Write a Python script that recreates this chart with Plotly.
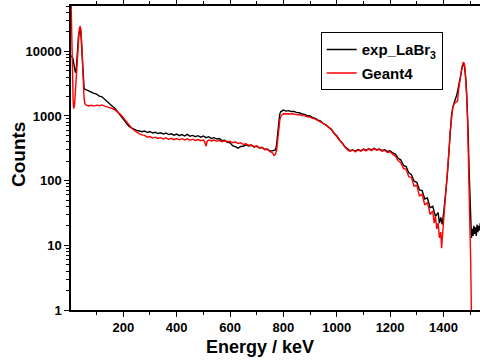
import plotly.graph_objects as go

# ---------------- data ----------------
exp_energy = [5, 8, 11, 14, 17, 20, 23, 26, 29, 32, 35, 38, 41, 44, 47, 50, 53, 56, 60,
              70, 80, 90, 100, 110, 120, 130, 140, 150, 160, 170, 180, 190, 200, 210, 220, 230, 240, 250, 260,
              270, 280, 290, 300, 310, 320, 330, 340, 350, 360, 370, 380, 390, 400, 410, 420, 430, 440, 450,
              460, 470, 480, 490, 500, 510, 520, 530, 540, 550, 560, 570, 580, 590, 600, 610, 620, 630, 640,
              650, 660, 670, 680, 690, 700, 710, 720, 730, 740, 750, 760, 770,
              774, 777, 780, 783, 786, 790, 795, 800,
              810, 820, 830, 840, 850, 860, 870, 880, 890, 900, 910, 920, 930, 940, 950, 960, 970, 980, 990,
              1000, 1010, 1020, 1030, 1040, 1050, 1060, 1070, 1080, 1090, 1100, 1110, 1120, 1130, 1140, 1150,
              1160, 1170, 1180, 1190, 1200, 1210, 1220, 1230, 1240, 1250, 1260, 1270, 1280, 1290, 1300, 1310,
              1320, 1330, 1340, 1350, 1360, 1370, 1380, 1385, 1390, 1395, 1400,
              1405, 1410, 1415, 1420, 1425, 1430, 1435, 1440, 1445, 1450, 1455, 1460, 1465, 1470, 1475, 1478,
              1481, 1484, 1487, 1490, 1493, 1496, 1499, 1502, 1505, 1508, 1511, 1514, 1517, 1520, 1523, 1526,
              1529, 1532, 1535, 1538, 1541]
exp_counts = [8600, 8200, 7800, 6600, 5400, 4800, 4700, 6500, 11000, 17000, 21500, 22500, 19000, 11000, 5500, 3200, 2700, 2600, 2550,
              2450, 2380, 2230, 2170, 2030, 1980, 1830, 1640, 1520, 1400, 1290, 1150, 1030, 910, 790, 700, 655, 620, 600, 585,
              570, 585, 555, 575, 545, 560, 535, 550, 525, 545, 515, 530, 505, 525, 495, 515, 490, 520, 485,
              500, 478, 495, 470, 490, 462, 478, 450, 462, 440, 448, 418, 420, 392, 385, 348, 335, 318, 338,
              340, 358, 342, 352, 332, 340, 322, 326, 305, 305, 288, 290, 298,
              340, 450, 640, 860, 1050, 1160, 1210, 1230,
              1190, 1210, 1170, 1175, 1125, 1120, 1070, 1060, 1005, 1000, 940, 920, 860, 830, 760, 730, 670, 625, 540,
              495, 425, 385, 335, 315, 290, 298, 285, 302, 290, 308, 295, 312, 298, 315, 300,
              308, 292, 300, 282, 290, 268, 258, 222, 210, 172, 165, 132, 124, 98, 94, 72,
              70, 52, 54, 38, 40, 28, 32, 22, 27, 21, 30,
              45, 75, 130, 260, 560, 1000, 1350, 1650, 1850, 2100, 2600, 3300, 4300, 5600, 6500, 6300,
              5200, 3700, 2200, 1200, 500, 150, 50, 22, 13, 18, 14, 20, 15, 19, 14, 21,
              16, 20, 17, 22, 18]

g4_energy = [4, 5, 6, 8, 10, 12, 14, 17, 20, 23, 26, 29, 32, 35, 38, 41, 44, 47, 50, 53, 56, 60,
             70, 80, 90, 100, 110, 120, 130, 140, 150, 160, 170, 180, 190, 200, 210, 220, 230, 240, 250, 260,
             270, 280, 290, 300, 310, 320, 330, 340, 350, 360, 370, 380, 390, 400, 410, 420, 430, 440, 450,
             460, 470, 480, 490, 500, 505, 510, 515, 520, 530, 540, 550, 560, 570, 580, 590, 600, 610, 620,
             630, 640, 650, 660, 670, 680, 690, 700, 710, 720, 730, 740, 750, 760, 765, 770,
             775, 778, 781, 784, 787, 791, 796, 802,
             810, 820, 830, 840, 850, 860, 870, 880, 890, 900, 910, 920, 930, 940, 950, 960, 970, 980, 990,
             1000, 1010, 1020, 1030, 1040, 1050, 1060, 1070, 1080, 1090, 1100, 1110, 1120, 1130, 1140, 1150,
             1160, 1170, 1180, 1190, 1200, 1210, 1220, 1230, 1240, 1250, 1260, 1270, 1280, 1290, 1300, 1310,
             1320, 1330, 1340, 1350, 1360, 1365, 1370, 1375, 1380, 1385, 1390, 1393, 1396, 1400,
             1405, 1410, 1415, 1420, 1425, 1430, 1435, 1440, 1445, 1450, 1453, 1456, 1460, 1465, 1470, 1475,
             1478, 1481, 1484, 1487, 1490, 1493, 1496, 1499, 1502, 1504, 1506]
g4_counts = [70000, 40000, 20000, 7000, 3000, 1700, 1300, 1450, 2200, 3800, 6500, 11000, 16500, 22000, 24500, 22000, 14000, 7000, 3200, 1900, 1550, 1480,
             1430, 1460, 1420, 1470, 1440, 1480, 1420, 1380, 1350, 1300, 1230, 1150, 1050, 940, 830, 740, 660, 600, 560, 530,
             510, 500, 470, 480, 455, 470, 450, 462, 440, 458, 435, 452, 430, 448, 428, 445, 425, 442, 420,
             438, 418, 432, 415, 425, 400, 340, 410, 425, 410, 425, 405, 420, 400, 412, 395, 405, 385, 398,
             375, 385, 362, 372, 350, 358, 335, 345, 320, 328, 300, 305, 280, 268, 245, 255,
             300, 400, 550, 720, 880, 1000, 1060, 1080,
             1075, 1090, 1060, 1075, 1040, 1045, 1010, 1005, 970, 960, 915, 895, 850, 815, 765, 720, 665, 610, 540,
             480, 420, 370, 330, 300, 285, 300, 278, 298, 285, 305, 288, 310, 292, 312, 295,
             305, 285, 295, 272, 280, 255, 240, 205, 190, 155, 150, 115, 112, 82, 85, 58,
             62, 42, 46, 30, 34, 22, 28, 18, 22, 13, 16, 9, 12, 22,
             42, 72, 130, 260, 560, 1000, 1350, 1550, 1600, 1650, 1700, 2400, 3200, 4400, 5900, 6800,
             6500, 5300, 3600, 2000, 1000, 350, 90, 25, 6, 1.5, 0.3]

x_tick_values = [200, 400, 600, 800, 1000, 1200, 1400]
y_tick_values = [1, 10, 100, 1000, 10000]
y_tick_labels = ["1", "10", "100", "1000", "10000"]

FONT = "Liberation Sans, Arial, sans-serif"

fig = go.Figure()
fig.add_trace(go.Scatter(x=exp_energy, y=exp_counts, mode="lines",
                         line=dict(color="black", width=1.4),
                         name="exp_LaBr<sub>3</sub>", legendgroup="a"))
fig.add_trace(go.Scatter(x=g4_energy, y=g4_counts, mode="lines",
                         line=dict(color="#ff0000", width=1.4),
                         name="Geant4", legendgroup="b"))

fig.update_layout(
    width=480, height=360,
    margin=dict(l=71, r=0, t=6, b=50),
    paper_bgcolor="white", plot_bgcolor="white",
    font=dict(family=FONT, color="black"),
    showlegend=True,
    legend=dict(x=0.6105, y=0.9135, xanchor="left", yanchor="top",
                bgcolor="white", bordercolor="black", borderwidth=1,
                font=dict(family=FONT, size=15, weight="bold", color="black"),
                tracegroupgap=1, traceorder="grouped"),
    xaxis=dict(range=[4, 1537], showgrid=False, zeroline=False,
               showline=True, linecolor="black", linewidth=1.5, mirror="allticks",
               ticks="outside", ticklen=5, tickwidth=1.2, tickcolor="black",
               tickvals=x_tick_values,
               tickfont=dict(family=FONT, size=13, weight="bold"),
               minor=dict(ticks="outside", ticklen=3, tickwidth=1.2, tickcolor="black", dtick=100, tick0=0)),
    yaxis=dict(type="log", range=[0, 4.70], showgrid=False, zeroline=False,
               showline=True, linecolor="black", linewidth=1.5,
               ticks="outside", ticklen=5, tickwidth=1.2, tickcolor="black",
               tickvals=y_tick_values, ticktext=y_tick_labels,
               tickfont=dict(family=FONT, size=13, weight="bold"),
               minor=dict(ticks="outside", ticklen=3, tickwidth=1, tickcolor="black", dtick="D1")),
)

# axis titles placed as annotations (pixel positions converted to paper coordinates)
pw, ph = 480 - 71 - 0, 360 - 6 - 50
fig.add_annotation(text="Energy / keV", x=(260 - 71) / pw, y=(310 - 347) / ph,
                   xref="paper", yref="paper", showarrow=False, xanchor="center", yanchor="middle",
                   font=dict(family=FONT, size=18, weight="bold"))
fig.add_annotation(text="Counts", x=(18 - 71) / pw, y=(310 - 155) / ph,
                   xref="paper", yref="paper", showarrow=False, xanchor="center", yanchor="middle",
                   textangle=-90, font=dict(family=FONT, size=19, weight="bold"))

fig.write_html("out.html")
